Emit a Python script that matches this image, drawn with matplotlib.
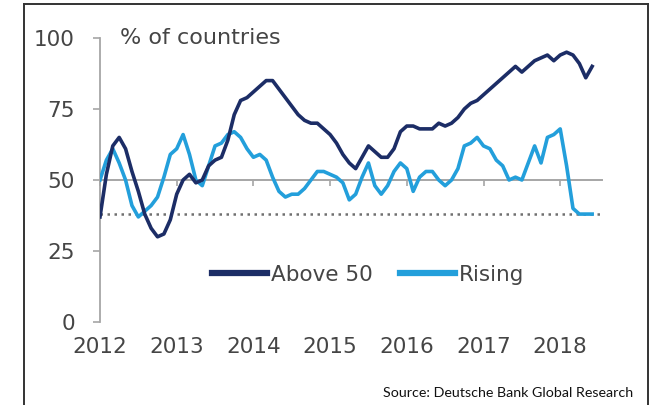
import numpy as np
import pandas as pd
import matplotlib
matplotlib.use("Agg")
import matplotlib.pyplot as plt
from matplotlib.lines import Line2D

# monthly data, Jan 2012 - Jun 2018
months = pd.date_range("2012-01-01", periods=78, freq="MS")

above_50 = [37, 52, 62, 65, 61, 53, 46, 38, 33, 30, 31, 36,
            45, 50, 52, 49, 50, 55, 57, 58, 64, 73, 78, 79,
            81, 83, 85, 85, 82, 79, 76, 73, 71, 70, 70, 68,
            66, 63, 59, 56, 54, 58, 62, 60, 58, 58, 61, 67,
            69, 69, 68, 68, 68, 70, 69, 70, 72, 75, 77, 78,
            80, 82, 84, 86, 88, 90, 88, 90, 92, 93, 94, 92,
            94, 95, 94, 91, 86, 90]

rising = [50, 57, 61, 56, 50, 41, 37, 39, 41, 44, 51, 59,
          61, 66, 59, 50, 48, 55, 62, 63, 66, 67, 65, 61,
          58, 59, 57, 51, 46, 44, 45, 45, 47, 50, 53, 53,
          52, 51, 49, 43, 45, 51, 56, 48, 45, 48, 53, 56,
          54, 46, 51, 53, 53, 50, 48, 50, 54, 62, 63, 65,
          62, 61, 57, 55, 50, 51, 50, 56, 62, 56, 65, 66,
          68, 55, 40, 38, 38, 38]

years = [2012, 2013, 2014, 2015, 2016, 2017, 2018]
y_ticks = [0, 25, 50, 75, 100]
threshold = 50
dotted_level = 38

dark = "#1c2d66"
light = "#239fdb"
txt = "#454545"
grey = "#a6a6a6"

x = months.year + (months.month - 1) / 12.0

plt.rcParams["font.family"] = ["DejaVu Sans"]

fig = plt.figure(figsize=(6.55, 4.05), dpi=100)
ax = fig.add_axes([100 / 655, 83 / 405, 502 / 655, 284 / 405])

ax.axhline(dotted_level, color="#707070", lw=1.8, linestyle=(0, (1, 1.8)), zorder=1)

ax.plot(x, rising, color=light, lw=2.6, label="Rising", zorder=3)
ax.plot(x, above_50, color=dark, lw=2.6, label="Above 50", zorder=4)

ax.set_xlim(2012, 2012 + 502 / 76.7)
ax.set_ylim(0, 100)

# x axis crosses at 50, labels stay low
for s in ["top", "right"]:
    ax.spines[s].set_visible(False)
ax.spines["bottom"].set_position(("data", threshold))
ax.spines["bottom"].set_color(grey)
ax.spines["bottom"].set_linewidth(1.4)
ax.spines["bottom"].set_zorder(1)
ax.spines["left"].set_color(grey)
ax.spines["left"].set_linewidth(1.3)

ax.set_yticks(y_ticks)
ax.tick_params(axis="y", length=5, width=1.2, color=grey, pad=13,
               labelsize=15.5, labelcolor=txt)
ax.set_xticks(years)
ax.set_xticklabels([str(y) for y in years])
ax.tick_params(axis="x", direction="out", length=4, width=1.2, color=grey,
               pad=109, labelsize=15.5, labelcolor=txt)

ax.text(20 / 502, 1.0, "% of countries", transform=ax.transAxes,
        fontsize=16, color=txt, va="center", ha="left")

handles = [Line2D([], [], color=dark, lw=4.5), Line2D([], [], color=light, lw=4.5)]
ax.legend(handles, ["Above 50", "Rising"], loc="center left",
          bbox_to_anchor=(112 / 502, (322 - 275) / 284), ncol=2, frameon=False,
          fontsize=15.5, labelcolor=txt, handlelength=2.55, handletextpad=0.2,
          columnspacing=1.25, borderpad=0, borderaxespad=0)

fig.text(633 / 655, 12 / 405, "Source: Deutsche Bank Global Research",
         ha="right", va="center", fontsize=10.3, family="Lato", color="#111111")

# outer frame (open at the bottom)
fx0, fx1, fy1 = 23.5 / 655, 648 / 655, 1 - 4 / 405
frame_kw = dict(color="#333333", lw=1.4, transform=fig.transFigure)
fig.add_artist(Line2D([fx0, fx0], [0, fy1], **frame_kw))
fig.add_artist(Line2D([fx0, fx1], [fy1, fy1], **frame_kw))
fig.add_artist(Line2D([fx1, fx1], [0, fy1], **frame_kw))

fig.savefig("out.png", dpi=100)
